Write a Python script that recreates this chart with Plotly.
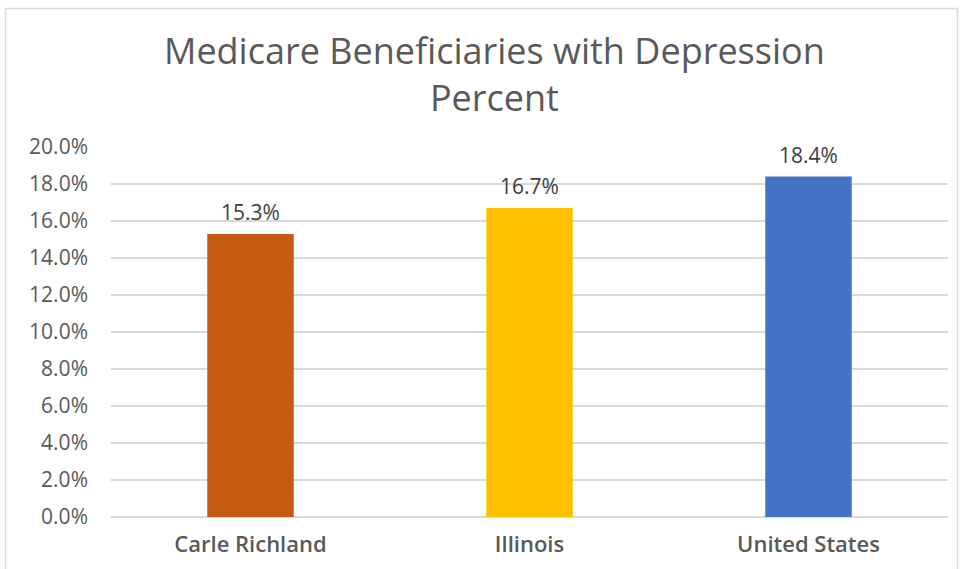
import plotly.graph_objects as go

categories = ["Carle Richland", "Illinois", "United States"]
values = [15.3, 16.7, 18.4]
colors = ["#C55A11", "#FFC000", "#4472C4"]
tick_vals = [0, 2, 4, 6, 8, 10, 12, 14, 16, 18, 20]
tick_text = [f"{v:.1f}%" for v in tick_vals]
label_text = [f"{v:.1f}%" for v in values]
title_lines = ["Medicare Beneficiaries with Depression", "Percent"]

W, H = 964, 569
ml, mr, mt, mb = 111, 16, 147, 52
pw, ph = W - ml - mr, H - mt - mb

def px_to_paper_x(px):
    return (px - ml) / pw

def py_to_paper_y(py):
    return (H - mb - py) / ph

font_family = "Open Sans, sans-serif"

fig = go.Figure(go.Bar(
    x=categories, y=values,
    marker=dict(color=colors, line=dict(width=0)),
    width=0.31,
    hoverinfo="x+y",
))

annotations = [dict(
    text="<br>".join(title_lines), xref="paper", yref="paper",
    x=px_to_paper_x(494), y=py_to_paper_y(74),
    xanchor="center", yanchor="middle", align="center", showarrow=False,
    font=dict(size=36, color="#595959", family=font_family),
)]
for c, v, t in zip(categories, values, label_text):
    annotations.append(dict(
        text=t, x=c, y=v, xref="x", yref="y",
        xanchor="center", yanchor="bottom", showarrow=False, yshift=6,
        font=dict(size=21, color="#404040", family=font_family),
    ))

fig.update_layout(
    width=W, height=H,
    margin=dict(l=ml, r=mr, t=mt, b=mb),
    paper_bgcolor="white", plot_bgcolor="white",
    xaxis=dict(
        showgrid=False, showline=False, zeroline=False,
        tickfont=dict(size=22, color="#595959", family=font_family, weight=600),
        ticks="", ticklabelstandoff=12,
    ),
    yaxis=dict(
        range=[0, 20], tickvals=tick_vals, ticktext=tick_text,
        showgrid=True, gridcolor="#D9D9D9", gridwidth=1.5,
        zeroline=True, zerolinecolor="#D9D9D9", zerolinewidth=1.5,
        showline=False, ticks="",
        tickfont=dict(size=21, color="#595959", family=font_family),
        ticklabelstandoff=22,
    ),
    showlegend=False,
    annotations=annotations,
    shapes=[dict(
        type="rect", xref="paper", yref="paper",
        x0=px_to_paper_x(5.5), x1=px_to_paper_x(957.5),
        y0=py_to_paper_y(580), y1=py_to_paper_y(8.5),
        line=dict(color="#D9D9D9", width=1.5), fillcolor="rgba(0,0,0,0)",
        layer="below",
    )],
)

fig.write_html("out.html")
